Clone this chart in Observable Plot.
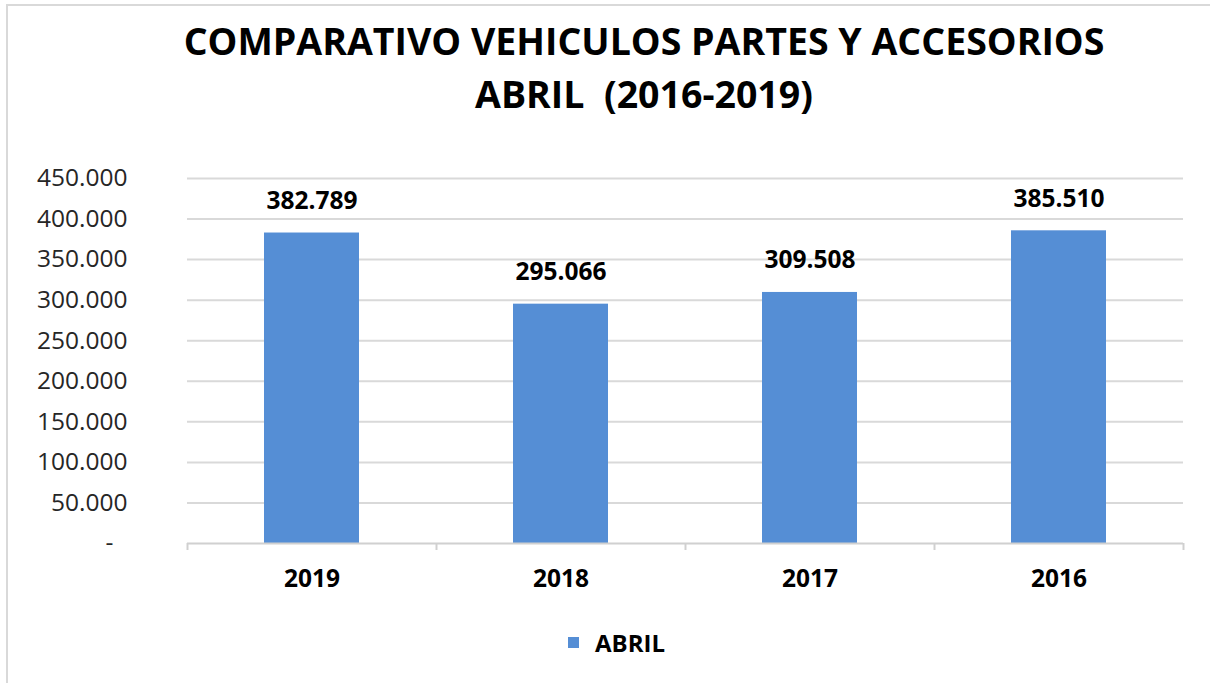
<!DOCTYPE html>
<html>
<head>
<meta charset="utf-8">
<script src="https://cdn.jsdelivr.net/npm/d3@7"></script>
<script src="https://cdn.jsdelivr.net/npm/@observablehq/plot@0.6"></script>
<style>
  html, body { margin: 0; padding: 0; background: #fff; width: 1210px; height: 683px; overflow: hidden; position: relative; }
  #frame { position: absolute; left: 6px; top: 4px; width: 1300px; height: 800px; border: 2px solid #d9d9d9; box-sizing: border-box; }
  #title { position: absolute; left: 80px; width: 1128px; top: 14px; text-align: center; font-family: "Open Sans", sans-serif; font-weight: 700; font-size: 37.5px; line-height: 53px; color: #000; white-space: pre; }
  #chart { position: absolute; left: 0; top: 150px; }
  #legend { position: absolute; left: 568px; top: 626px; display: flex; align-items: center; font-family: "Open Sans", sans-serif; font-weight: 700; font-size: 24px; color: #000; }
  #legend .sw { width: 11px; height: 11px; background: #558ed5; margin-right: 16px; }
</style>
</head>
<body>
<div id="frame"></div>
<div id="title">COMPARATIVO VEHICULOS PARTES Y ACCESORIOS
ABRIL  (2016-2019)</div>
<div id="chart"></div>
<div id="legend"><div class="sw"></div><span>ABRIL</span></div>
<script>
const years = ["2019", "2018", "2017", "2016"];
const values = [382789, 295066, 309508, 385510];
const seriesName = "ABRIL";
const yTicks = [0, 50000, 100000, 150000, 200000, 250000, 300000, 350000, 400000, 450000];

const data = years.map((y, i) => ({year: y, value: values[i]}));
const fmt = v => d3.format(",")(v).replace(/,/g, ".");

const W = 1210, H = 450, mL = 187, mR = 27, mT = 28, mB = 57;
const step = (W - mL - mR) / years.length;
const barW = 95;
const inset = (step - barW) / 2;

const chart = Plot.plot({
  width: W,
  height: H,
  marginLeft: mL,
  marginRight: mR,
  marginTop: mT,
  marginBottom: mB,
  style: {background: "transparent", overflow: "visible"},
  x: {domain: years, padding: 0, axis: null},
  y: {domain: [0, 450000], axis: null},
  marks: [
    Plot.ruleY(yTicks.filter(d => d > 0), {stroke: "#d9d9d9", strokeWidth: 2}),
    Plot.axisY({
      ticks: yTicks,
      tickSize: 0,
      tickPadding: 60,
      tickFormat: d => d === 0 ? "-\u2007" : fmt(d),
      fontSize: 24.5,
      fontFamily: "Open Sans, sans-serif",
      fill: "#262626",
      label: null
    }),
    Plot.barY(data, {x: "year", y: "value", fill: "#558ed5", insetLeft: inset, insetRight: inset}),
    Plot.ruleY([0], {stroke: "#d0d0d0", strokeWidth: 2}),
    Plot.ruleX(years, {x: d => d, y1: 0, y2: 0, insetBottom: -7, dx: -step / 2, stroke: "#d0d0d0", strokeWidth: 2}),
    Plot.ruleX([years[years.length - 1]], {x: d => d, y1: 0, y2: 0, insetBottom: -7, dx: step / 2, stroke: "#d0d0d0", strokeWidth: 2}),
    Plot.text(data, {x: "year", y: "value", text: d => fmt(d.value), dy: -32, lineAnchor: "middle", fontSize: 24.5, fontWeight: 700, fontFamily: "Open Sans, sans-serif", fill: "#000"}),
    Plot.text(data, {x: "year", y: () => 0, text: "year", dy: 36, lineAnchor: "middle", fontSize: 24.5, fontWeight: 700, fontFamily: "Open Sans, sans-serif", fill: "#000"})
  ]
});
document.getElementById("chart").appendChild(chart);
</script>
</body>
</html>
